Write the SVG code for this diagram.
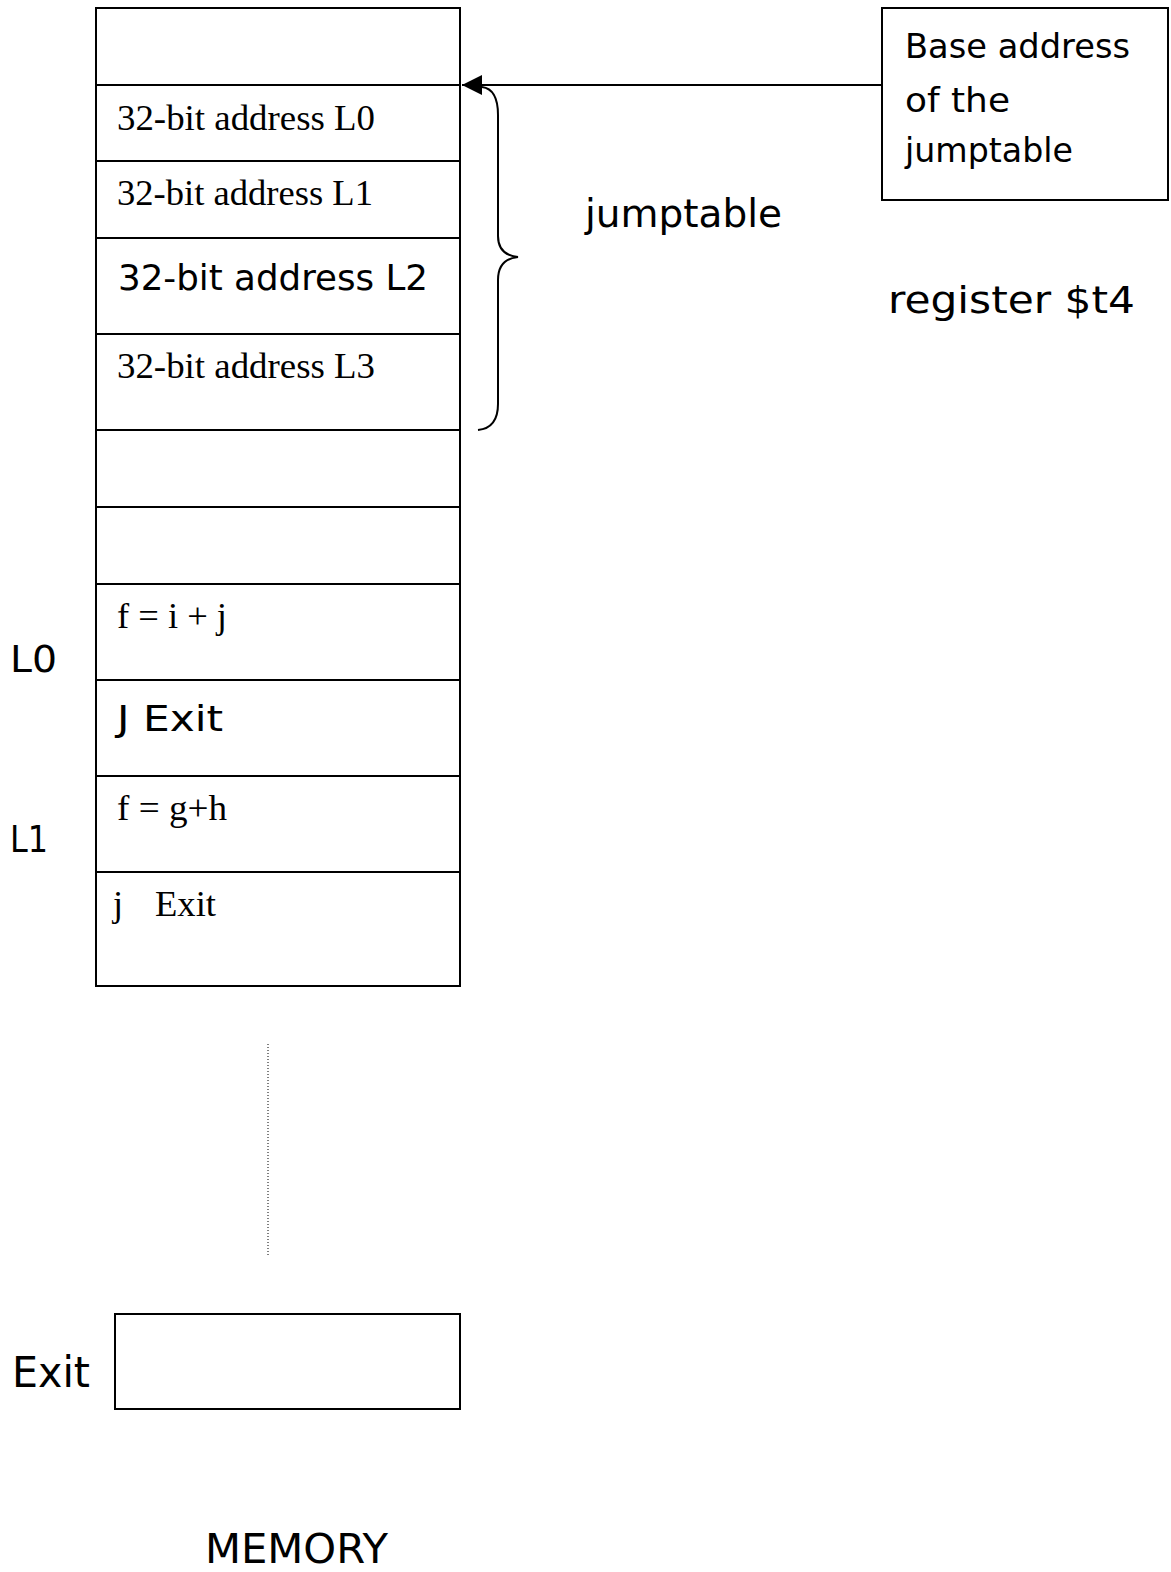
<svg xmlns="http://www.w3.org/2000/svg" width="1171" height="1572" viewBox="0 0 1171 1572">
  <style>
    .cell { fill: #fff; stroke: #000; stroke-width: 2; }
    .serif { font-family: "Liberation Serif", "Times New Roman", serif; font-size: 36px; fill: #000; }
    .hand { font-family: "DejaVu Sans", "Noto Sans", sans-serif; fill: #000; }
    .conn { fill: none; stroke: #000; stroke-width: 2; }
  </style>
  <defs>
    <marker id="arrow" viewBox="0 0 20 20" refX="20" refY="10" markerWidth="20" markerHeight="20" markerUnits="userSpaceOnUse" orient="auto">
      <path d="M0,0 L20,10 L0,20 Z" fill="#000"/>
    </marker>
  </defs>
  <rect width="1171" height="1572" fill="#fff"/>

  <!-- memory column -->
  <g id="mem-0"><rect class="cell" x="96" y="8" width="364" height="77"/></g>
  <g id="mem-L0addr">
    <rect class="cell" x="96" y="85" width="364" height="76"/>
    <text class="serif" x="117" y="130" textLength="258" lengthAdjust="spacingAndGlyphs">32-bit address L0</text>
  </g>
  <g id="mem-L1addr">
    <rect class="cell" x="96" y="161" width="364" height="77"/>
    <text class="serif" x="117" y="205" textLength="256" lengthAdjust="spacingAndGlyphs">32-bit address L1</text>
  </g>
  <g id="mem-L2addr">
    <rect class="cell" x="96" y="238" width="364" height="96"/>
    <text class="hand" x="118" y="290" font-size="35" textLength="310" lengthAdjust="spacingAndGlyphs">32-bit address L2</text>
  </g>
  <g id="mem-L3addr">
    <rect class="cell" x="96" y="334" width="364" height="96"/>
    <text class="serif" x="117" y="378" textLength="258" lengthAdjust="spacingAndGlyphs">32-bit address L3</text>
  </g>
  <g id="mem-5"><rect class="cell" x="96" y="430" width="364" height="77"/></g>
  <g id="mem-6"><rect class="cell" x="96" y="507" width="364" height="77"/></g>
  <g id="mem-L0code">
    <rect class="cell" x="96" y="584" width="364" height="96"/>
    <text class="serif" x="117" y="628" textLength="110" lengthAdjust="spacingAndGlyphs">f = i + j</text>
  </g>
  <g id="mem-L0jump">
    <rect class="cell" x="96" y="680" width="364" height="96"/>
    <text class="hand" x="117" y="731" font-size="36" textLength="106" lengthAdjust="spacingAndGlyphs">J Exit</text>
  </g>
  <g id="mem-L1code">
    <rect class="cell" x="96" y="776" width="364" height="96"/>
    <text class="serif" x="117" y="820" textLength="110" lengthAdjust="spacingAndGlyphs">f = g+h</text>
  </g>
  <g id="mem-L1jump">
    <rect class="cell" x="96" y="872" width="364" height="114"/>
    <text class="serif" y="916"><tspan x="113">j</tspan><tspan x="155" textLength="61" lengthAdjust="spacingAndGlyphs">Exit</tspan></text>
  </g>

  <!-- gap in memory -->
  <line x1="268" y1="1044" x2="268" y2="1256" stroke="#000" stroke-width="1" stroke-dasharray="1,2"/>

  <g id="mem-exit"><rect class="cell" x="115" y="1314" width="345" height="95"/></g>

  <!-- side labels -->
  <g id="label-L0"><text class="hand" x="10" y="672" font-size="38" textLength="47" lengthAdjust="spacingAndGlyphs">L0</text></g>
  <g id="label-L1"><text class="hand" x="10" y="852" font-size="38" textLength="38" lengthAdjust="spacingAndGlyphs">L1</text></g>
  <g id="label-Exit"><text class="hand" x="12" y="1387" font-size="42" textLength="78" lengthAdjust="spacingAndGlyphs">Exit</text></g>
  <g id="label-memory"><text class="hand" x="205" y="1563" font-size="41" textLength="183" lengthAdjust="spacingAndGlyphs">MEMORY</text></g>

  <!-- register $t4 -->
  <g id="base-register">
    <rect class="cell" x="882" y="8" width="286" height="192"/>
    <text class="hand" x="905" y="58" font-size="34" textLength="225" lengthAdjust="spacingAndGlyphs">Base address</text>
    <text class="hand" x="905" y="112" font-size="34" textLength="105" lengthAdjust="spacingAndGlyphs">of the</text>
    <text class="hand" x="905" y="162" font-size="34" textLength="168" lengthAdjust="spacingAndGlyphs">jumptable</text>
  </g>
  <g id="label-register"><text class="hand" x="888" y="313" font-size="38" textLength="247" lengthAdjust="spacingAndGlyphs">register $t4</text></g>
  <g id="label-jumptable"><text class="hand" x="585" y="227" font-size="39" textLength="197" lengthAdjust="spacingAndGlyphs">jumptable</text></g>

  <!-- connectors -->
  <g id="connectors">
    <path class="conn" d="M882,85 L462,85" marker-end="url(#arrow)"/>
    <path class="conn" d="M482,87 Q498,89 498,115 L498,236 Q498,255 518,257 Q498,259 498,280 L498,404 Q498,428 478,430"/>
  </g>
</svg>
